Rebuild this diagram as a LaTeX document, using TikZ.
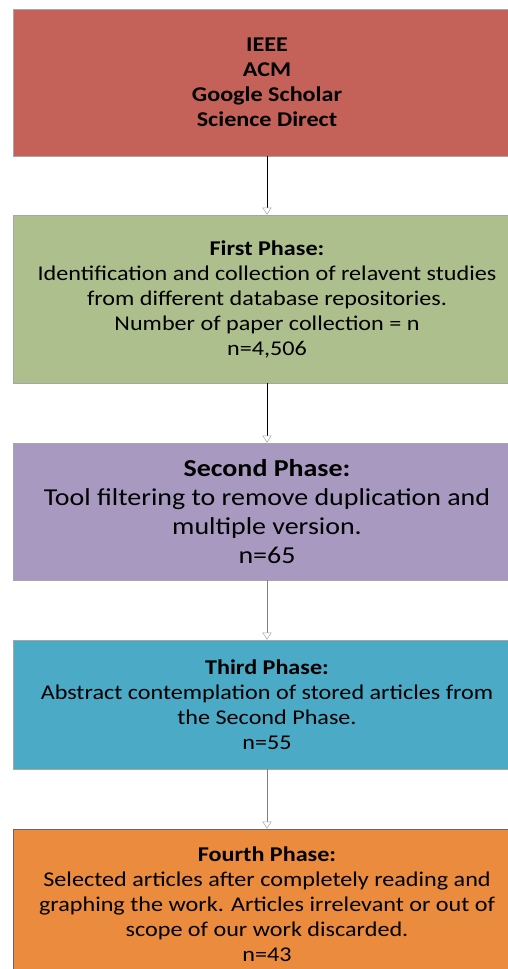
\documentclass[tikz,border=0pt]{standalone}
\usepackage{fontspec}
\setmainfont[FakeStretch=1.15]{Carlito}
\usetikzlibrary{arrows.meta}
\definecolor{cred}{HTML}{C4625A}
\definecolor{cgreen}{HTML}{ADBF8D}
\definecolor{cpurple}{HTML}{A899C1}
\definecolor{cteal}{HTML}{4BAAC5}
\definecolor{corange}{HTML}{EA8B3E}
\tikzset{
  phasebox/.style={draw=gray!70, line width=0.6pt, minimum width=508pt, align=center, inner sep=0pt, font=\fontsize{21}{25}\selectfont},
  conn/.style={line width=0.7pt, -{Triangle[open, width=9pt, length=7pt, line width=0.5pt, color=gray!70, fill=white]}},
}
\begin{document}
\begin{tikzpicture}[x=1pt, y=-1pt]
\path[use as bounding box, clip] (0,0) rectangle (508,969);
\fill[white] (0,0) rectangle (508,969);
\node[phasebox, fill=cred, minimum height=147pt] (db) at (267,82.5)
  {\textbf{IEEE}\\\textbf{ACM}\\\textbf{Google Scholar}\\\textbf{Science Direct}};
\node[phasebox, fill=cgreen, minimum height=168pt] (p1) at (267,299)
  {\textbf{First Phase:}\\Identification and collection of relavent studies\\from different database repositories.\\Number of paper collection = n\\n=4,506};
\node[phasebox, fill=cpurple, minimum height=137pt, font=\fontsize{24.3}{29}\selectfont] (p2) at (267,511.5)
  {\textbf{Second Phase:}\\Tool filtering to remove duplication and\\multiple version.\\n=65};
\node[phasebox, fill=cteal, minimum height=129pt] (p3) at (267,704.5)
  {\textbf{Third Phase:}\\Abstract contemplation of stored articles from\\the Second Phase.\\n=55};
\node[phasebox, fill=corange, minimum height=150pt, draw=black!60] (p4) at (267,904)
  {\textbf{Fourth Phase:}\\Selected articles after completely reading and\\graphing the work. Articles irrelevant or out of\\scope of our work discarded.\\n=43};
\draw[conn, black] (db.south) -- (p1.north);
\draw[conn, black] (p1.south) -- (p2.north);
\draw[conn, gray] (p2.south) -- (p3.north);
\draw[conn, gray] (p3.south) -- (p4.north);
\end{tikzpicture}
\end{document}
